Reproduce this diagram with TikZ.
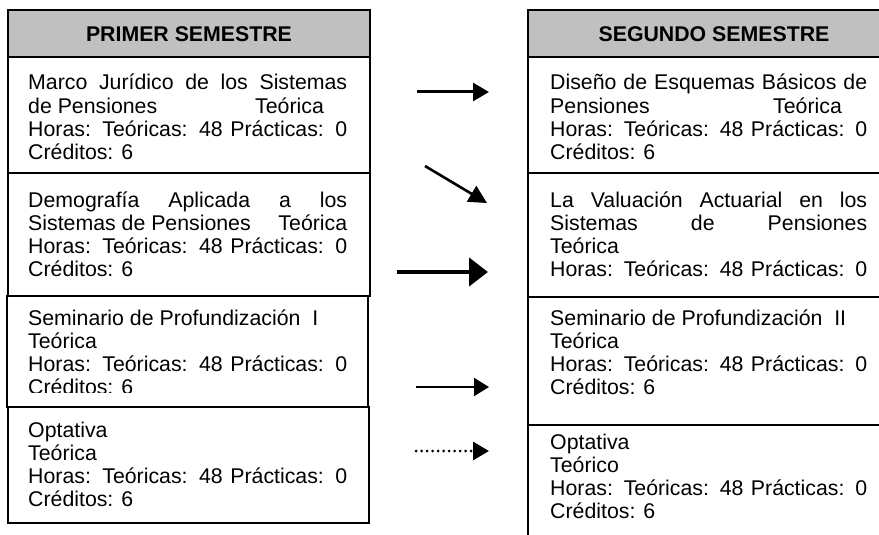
\documentclass[tikz,border=0pt]{standalone}
\usepackage{fontspec}
\setmainfont{Liberation Sans}
\usetikzlibrary{arrows.meta}
\definecolor{hdrgray}{RGB}{192,192,192}
\newlength\linew
\newcommand\jl[1]{\hbox to \linew{#1}}
\newcommand\lft[1]{\hbox{#1}}
\newcommand\celltext[2]{\linew=#1\relax\vtop{\baselineskip=23.3pt\lineskiplimit=-100pt\lineskip=0pt #2}}
\tikzset{
  cell/.style={draw=black, line width=2pt, fill=white, anchor=north west, inner sep=0pt, outer sep=0pt},
  hdr/.style={cell, fill=hdrgray},
  hdrtext/.style={anchor=base, inner sep=0pt, font=\fontsize{21.3}{23.3}\selectfont\bfseries},
  txt/.style={anchor=base west, inner sep=0pt, font=\fontsize{21.3}{23.3}\selectfont},
  arr/.style={draw=black, -{Triangle[length=16pt,width=18pt]}},
}
\begin{document}
\begin{tikzpicture}[x=1pt,y=-1pt]
\clip (0,0) rectangle (879,535);
\fill[white] (0,0) rectangle (879,535);

% ---- left column ----
\node[hdr, minimum width=362pt, minimum height=47pt] (LH) at (8,10) {};
\node[hdrtext] (LHt) at (189,42) {PRIMER SEMESTRE};

\node[cell, minimum width=362pt, minimum height=116pt] (L1) at (8,57) {};
\node[txt] (L1t) at (28,90) {\celltext{319pt}{%
  \jl{Marco Jurídico de los Sistemas}
  \lft{\rlap{de Pensiones}\hskip 227pt Teórica}
  \jl{Horas: Teóricas: 48 Prácticas: 0}
  \lft{Créditos: 6}}};

\node[cell, minimum width=362pt, minimum height=123pt] (L2) at (8,173) {};
\node[txt] (L2t) at (28,207) {\celltext{319pt}{%
  \jl{Demografía Aplicada a los}
  \jl{Sistemas de Pensiones\hfil Teórica}
  \jl{Horas: Teóricas: 48 Prácticas: 0}
  \lft{Créditos: 6}}};

\node[cell, minimum width=361pt, minimum height=111pt] (L3) at (7,296) {};
\begin{scope}
\clip (0,297) rectangle (400,392.5);
\node[txt] (L3t) at (28,325) {\celltext{319pt}{%
  \lft{Seminario de Profundización\ \ I}
  \lft{Teórica}
  \jl{Horas: Teóricas: 48 Prácticas: 0}
  \lft{Créditos: 6}}};
\end{scope}

\node[cell, minimum width=361pt, minimum height=116pt] (L4) at (8,407) {};
\node[txt] (L4t) at (28,437) {\celltext{319pt}{%
  \lft{Optativa}
  \lft{Teórica}
  \jl{Horas: Teóricas: 48 Prácticas: 0}
  \lft{Créditos: 6}}};

% ---- right column ----
\node[hdr, minimum width=372pt, minimum height=47pt] (RH) at (528,10) {};
\node[hdrtext] (RHt) at (714,42) {SEGUNDO SEMESTRE};

\node[cell, minimum width=372pt, minimum height=116pt] (R1) at (528,57) {};
\node[txt] (R1t) at (550,90) {\celltext{317pt}{%
  \jl{Diseño de Esquemas Básicos de}
  \lft{\rlap{Pensiones}\hskip 223pt Teórica}
  \jl{Horas: Teóricas: 48 Prácticas: 0}
  \lft{Créditos: 6}}};

\node[cell, minimum width=372pt, minimum height=124pt] (R2) at (528,173) {};
\node[txt] (R2t) at (550,207) {\celltext{317pt}{%
  \jl{La Valuación Actuarial en los}
  \jl{Sistemas de Pensiones}
  \lft{Teórica}
  \jl{Horas: Teóricas: 48 Prácticas: 0}}};

\node[cell, minimum width=372pt, minimum height=128pt] (R3) at (528,297) {};
\node[txt] (R3t) at (550,325) {\celltext{317pt}{%
  \lft{Seminario de Profundización\ \ II}
  \lft{Teórica}
  \jl{Horas: Teóricas: 48 Prácticas: 0}
  \lft{Créditos: 6}}};

\node[cell, minimum width=372pt, minimum height=140pt] (R4) at (528,425) {};
\node[txt] (R4t) at (550,449) {\celltext{317pt}{%
  \lft{Optativa}
  \lft{Teórico}
  \jl{Horas: Teóricas: 48 Prácticas: 0}
  \lft{Créditos: 6}}};

% ---- arrows ----
\coordinate (a1s) at (417,92);  \coordinate (a1e) at (489,92);
\coordinate (a2s) at (425,166); \coordinate (a2e) at (487,203);
\coordinate (a3s) at (397,272); \coordinate (a3e) at (488,272);
\coordinate (a4s) at (416,387); \coordinate (a4e) at (489,387);
\coordinate (a5s) at (416,451); \coordinate (a5e) at (489,451);

\draw[arr, line width=3pt] (a1s) -- (a1e);
\draw[arr, line width=2.6pt, -{Triangle[length=18pt,width=18pt]}] (a2s) -- (a2e);
\draw[arr, line width=4.5pt, -{Triangle[length=19pt,width=28pt]}] (a3s) -- (a3e);
\draw[arr, line width=2pt, -{Triangle[length=15pt,width=18pt]}] (a4s) -- (a4e);
\draw[arr, line width=3pt, line cap=round, dash pattern=on 0pt off 5.5pt] (a5s) -- (a5e);
\end{tikzpicture}
\end{document}
